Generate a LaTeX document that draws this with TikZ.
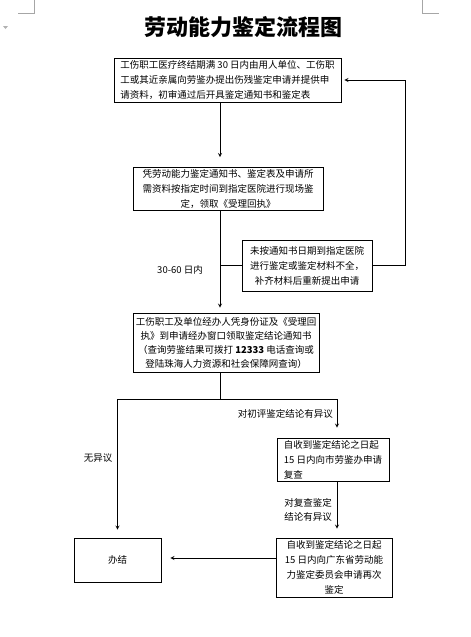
\documentclass[tikz,border=0pt]{standalone}
\usepackage{fontspec}
\setmainfont{Noto Sans CJK SC}
\usetikzlibrary{positioning}

\tikzset{
  stepbox/.style={draw, thick, rectangle, inner sep=2pt,
    font=\fontsize{9.5}{15}\selectfont},
  flow/.style={thick, -stealth},
  lbl/.style={font=\fontsize{9.5}{14}\selectfont, inner sep=1pt},
  pagemark/.style={draw=gray!70, line width=0.8pt}
}

\begin{document}
\begin{tikzpicture}[x=1pt, y=-1pt]
		\useasboundingbox (0,0) rectangle (471,637);
		% page corner marks
		\draw[pagemark] (34,0) -- (34,13) -- (18,13);
		\draw[pagemark] (422,0) -- (422,13) -- (439,13);
		\fill[gray!60] (3,26) -- (8,26) -- (5.5,29) -- cycle;
		
		% title
		\node (title) at (243,27) {\fontsize{22}{24}\selectfont\bfseries 劳动能力鉴定流程图};
		
		% helper coordinates
		\coordinate (mainx) at (220,0);
		\coordinate (rightx) at (337,0);
		\coordinate (split) at (220,399);
		\coordinate (backrow) at (0,558);
		
		% boxes
		\node[stepbox, minimum width=227pt, minimum height=44pt, align=left] (apply) at (227.5,80)
			{工伤职工医疗终结期满 30 日内由用人单位、工伤职\\工或其近亲属向劳鉴办提出伤残鉴定申请并提供申\\请资料，初审通过后开具鉴定通知书和鉴定表};
		\node[stepbox, minimum width=190pt, minimum height=42pt, align=center] (exam) at (228,189)
			{凭劳动能力鉴定通知书、鉴定表及申请所\\需资料按指定时间到指定医院进行现场鉴\\定，领取《受理回执》};
		\node[stepbox, minimum width=130pt, minimum height=51pt, align=center] (missing) at (307,265.5)
			{未按通知书日期到指定医院\\进行鉴定或鉴定材料不全，\\补齐材料后重新提出申请};
		\node[stepbox, minimum width=186pt, minimum height=59pt, align=center,
			font=\fontsize{9.5}{14}\selectfont] (result) at (226,342.5)
			{工伤职工及单位经办人凭身份证及《受理回\\执》到申请经办窗口领取鉴定结论通知书\\（查询劳鉴结果可拨打 \textbf{12333} 电话查询或\\登陆珠海人力资源和社会保障网查询）};
		\node[stepbox, minimum width=112pt, minimum height=43pt, align=left] (review) at (333,459.5)
			{自收到鉴定结论之日起\\15 日内向市劳鉴办申请\\复查};
		\node[stepbox, minimum width=116pt, minimum height=59pt, align=center] (again) at (334,567.5)
			{自收到鉴定结论之日起\\15 日内向广东省劳动能\\力鉴定委员会申请再次\\鉴定};
		\node[stepbox, minimum width=87pt, minimum height=44pt] (done) at (117.5,560) {办结};
		
		% labels
		\node[lbl] (days) at (180,270) {30-60 日内};
		\node[lbl, anchor=east] (objfirst) at (334,414) {对初评鉴定结论有异议};
		\node[lbl] (noobj) at (98,458) {无异议};
		\node[lbl, align=center] (objreview) at (308,510) {对复查鉴定\\结论有异议};
		
		% connectors
		\draw[flow, shorten >=10pt] (apply.south -| mainx) -- (exam.north -| mainx);
		\draw[flow, shorten >=5pt] (exam.south -| mainx) -- (result.north -| mainx);
		\draw[thick] (mainx |- missing.west) -- (missing.west);
		\draw[flow, shorten >=3pt] (missing.east) -- ++(33,0) |- (apply.east);
		\draw[thick] (result.south -| mainx) -- (split);
		\draw[flow, shorten >=8pt] (split) -| (done.north);
		\draw[flow, shorten >=10pt] (split) -| (rightx |- review.north);
		\draw[flow, shorten >=9pt] (rightx |- review.south) -- (rightx |- again.north);
		\draw[flow, shorten >=9pt] (again.west |- backrow) -- (done.east |- backrow);
	\end{tikzpicture}
\end{document}
